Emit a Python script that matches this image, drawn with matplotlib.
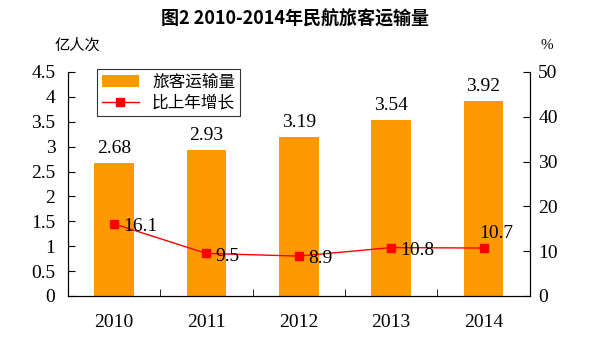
import numpy as np
import matplotlib
matplotlib.use("Agg")
from matplotlib import pyplot as plt
from matplotlib.ticker import FixedLocator

years = ["2010", "2011", "2012", "2013", "2014"]
passengers = [2.68, 2.93, 3.19, 3.54, 3.92]  # 亿人次
growth = [16.1, 9.5, 8.9, 10.8, 10.7]  # %
left_ticks = [0, 0.5, 1, 1.5, 2, 2.5, 3, 3.5, 4, 4.5]
right_ticks = [0, 10, 20, 30, 40, 50]

cjk = ["Noto Sans CJK SC", "DejaVu Sans"]
num = ["Liberation Serif", "DejaVu Serif"]
orange = "#FF9900"
red = "#FF0000"
fs = 14

fig = plt.figure(figsize=(5.9, 3.41), dpi=100)
ax = fig.add_axes([0.115, 0.132, 0.783, 0.657])
x = np.arange(len(years))

ax.bar(x, passengers, width=0.43, color=orange, label="旅客运输量", zorder=2)
ax.set_xlim(-0.5, len(years) - 0.5)
ax.set_ylim(0, 4.5)
ax.set_yticks(left_ticks)
ax.set_yticklabels(["%g" % v for v in left_ticks], family=num, fontsize=fs)
ax.set_xticks(x)
ax.set_xticklabels(years, family=num, fontsize=fs)
ax.xaxis.set_minor_locator(FixedLocator(np.arange(0.5, len(years) - 1, 1)))
ax.tick_params(axis="x", which="major", length=0, pad=13)
ax.tick_params(axis="x", which="minor", direction="in", length=5)
ax.tick_params(axis="y", direction="in", length=5, pad=9)
ax.spines["top"].set_visible(False)

for xi, v in zip(x, passengers):
    ax.text(xi, v + 0.12, "%.2f" % v, ha="center", va="bottom", family=num, fontsize=fs)

ax2 = ax.twinx()
ax2.plot(x, growth, color=red, lw=1, marker="s", ms=6, label="比上年增长", zorder=3)
ax2.set_ylim(0, 50)
ax2.set_yticks(right_ticks)
ax2.set_yticklabels([str(v) for v in right_ticks], family=num, fontsize=fs)
ax2.tick_params(axis="y", direction="in", length=5, pad=6)
ax2.spines["top"].set_visible(False)

for xi, v in zip(x, growth):
    if xi == len(years) - 1:
        ax2.text(xi - 0.05, v + 1.3, "%.1f" % v, ha="left", va="bottom", family=num, fontsize=fs)
    else:
        ax2.text(xi + 0.1, v - 0.6, "%.1f" % v, ha="left", va="center", family=num, fontsize=fs)

h1, l1 = ax.get_legend_handles_labels()
h2, l2 = ax2.get_legend_handles_labels()
leg = ax.legend(h1 + h2, l1 + l2, loc="upper left", bbox_to_anchor=(0.045, 1.05),
                prop={"family": cjk, "size": 12}, frameon=True, fancybox=False,
                edgecolor="black", handlelength=2.2, borderpad=0.3, labelspacing=0.2)
leg.get_frame().set_linewidth(0.8)
leg.set_zorder(5)

fig.text(0.5, 0.945, "图2 2010-2014年民航旅客运输量", ha="center", va="center",
         family=cjk, fontsize=13, fontweight="bold")
fig.text(0.132, 0.868, "亿人次", ha="center", va="center", family=cjk, fontsize=11)
fig.text(0.927, 0.868, "%", ha="center", va="center", family=num, fontsize=11)

fig.savefig("out.png", dpi=100)
